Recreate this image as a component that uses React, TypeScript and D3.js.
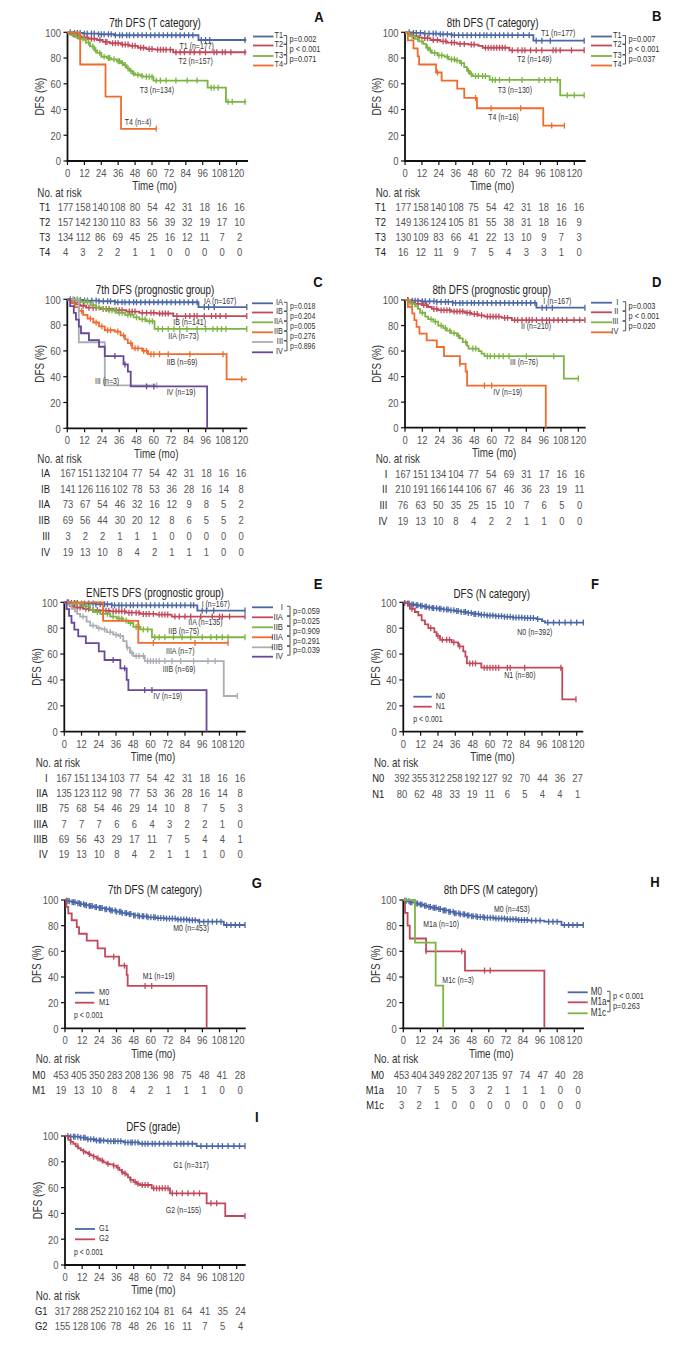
import React from "react";
import * as d3 from "d3";

type Step = [number, number];

const FONT = '"Liberation Sans", Arial, "DejaVu Sans", sans-serif';
const SX = 0.82;

const BLUE = "#4b67a5";
const RED = "#c1495b";
const GREEN = "#7db443";
const ORANGE = "#f06b2d";
const GRAY = "#aaaeb4";
const PURPLE = "#67489b";

const X_TICKS = [0, 12, 24, 36, 48, 60, 72, 84, 96, 108, 120];
const Y_TICKS = [0, 20, 40, 60, 80, 100];

// ---------- Panel A: 7th DFS (T category) ----------
const A_T1_steps: Step[] = [[0, 100], [4, 99.5], [11, 99], [22, 98.5], [33, 97.7], [93, 94]];
const A_T1_cens = [2, 5, 7, 9, 12, 14, 17, 19, 22, 24, 26, 29, 31, 34, 37, 39, 42, 44, 47, 50, 53, 56, 59, 62, 65, 68, 71, 74, 77, 80, 83, 86, 89, 95, 98, 101, 126];
const A_T2_steps: Step[] = [[0, 100], [2, 98.5], [5, 97], [10, 96], [15, 95], [21, 94], [25, 92.5], [30, 91.5], [38, 90.5], [44, 89.5], [50, 88], [56, 87], [62, 86.5], [75, 84.5]];
const A_T2_cens = [4, 7, 9, 12, 14, 17, 19, 23, 27, 28, 32, 34, 36, 39, 41, 43, 46, 48, 52, 54, 58, 60, 64, 66, 68, 70, 73, 77, 80, 83, 87, 90, 94, 98, 104, 106, 110, 112, 116, 126];
const A_T3_steps: Step[] = [[0, 100], [3, 98], [6, 96.5], [9, 95], [13, 92], [16, 89], [19, 86], [21, 84], [24, 81], [28, 80], [31, 79], [35, 77.5], [38, 76], [40, 74.5], [42, 72], [44, 70], [46, 68], [48, 67], [52, 66], [54, 65.5], [61, 62.5], [99.5, 57], [112.5, 46]];
const A_T3_cens = [5, 8, 11, 15, 18, 20, 23, 26, 29, 30, 33, 36, 37, 39, 41, 43, 45, 47, 50, 53, 56, 58, 60, 63, 66, 70, 77, 85, 92, 102, 104, 107, 114, 117, 126];
const A_T4_steps: Step[] = [[0, 100], [9, 75], [27, 50], [38, 25]];
const A_T4_cens = [63];
const A_risk_T1 = [177, 158, 140, 108, 80, 54, 42, 31, 18, 16, 16];
const A_risk_T2 = [157, 142, 130, 110, 83, 56, 39, 32, 19, 17, 10];
const A_risk_T3 = [134, 112, 86, 69, 45, 25, 16, 12, 11, 7, 2];
const A_risk_T4 = [4, 3, 2, 2, 1, 1, 0, 0, 0, 0, 0];

// ---------- Panel B: 8th DFS (T category) ----------
const B_T1_steps: Step[] = [[0, 100], [5, 99.5], [13, 99], [24, 98.5], [33, 97.8], [91, 93.5]];
const B_T1_cens = [3, 6, 8, 11, 14, 17, 20, 22, 25, 27, 30, 33, 35, 38, 41, 44, 47, 50, 53, 56, 58, 61, 64, 67, 70, 73, 76, 80, 84, 88, 93, 97, 103, 127];
const B_T2_steps: Step[] = [[0, 100], [3, 98.5], [5, 97], [9, 96], [12, 95.5], [18, 94], [25, 93], [30, 92], [37, 91], [45, 90.5], [52, 89.5], [55, 88], [74, 86]];
const B_T2_cens = [6, 10, 14, 16, 20, 23, 27, 29, 33, 35, 39, 42, 47, 49, 57, 59, 61, 63, 65, 67, 69, 71, 76, 80, 83, 85, 89, 93, 97, 105, 107, 110, 118, 127];
const B_T3_steps: Step[] = [[0, 100], [3, 97], [7, 95], [10, 93], [13, 91], [15, 88], [17, 86], [19, 84], [23, 82], [28, 81], [31, 79], [36, 78], [39, 76], [42, 73], [44, 70], [46, 67.5], [48, 66], [60, 63], [110, 51]];
const B_T3_cens = [5, 9, 12, 16, 18, 21, 24, 26, 30, 33, 35, 37, 40, 45, 47, 50, 52, 55, 57, 62, 64, 67, 74, 83, 95, 99, 103, 108, 115, 120, 127];
const B_T4_steps: Step[] = [[0, 100], [2, 93.75], [6, 87.5], [9, 81.25], [10, 75], [22, 68.75], [26, 62.5], [37, 56.25], [42, 49], [51, 41], [98, 27.5]];
const B_T4_cens = [23, 50, 61, 82, 104, 113];
const B_risk_T1 = [177, 158, 140, 108, 75, 54, 42, 31, 18, 16, 16];
const B_risk_T2 = [149, 136, 124, 105, 81, 55, 38, 31, 18, 16, 9];
const B_risk_T3 = [130, 109, 83, 66, 41, 22, 13, 10, 9, 7, 3];
const B_risk_T4 = [16, 12, 11, 9, 7, 5, 4, 3, 3, 1, 0];

// ---------- Panel C: 7th DFS (prognostic group) ----------
const C_IA_steps: Step[] = [[0, 100], [4, 99.5], [11, 99], [22, 98.5], [33, 97.7], [91, 94]];
const C_IA_cens = [2, 5, 7, 9, 12, 14, 17, 20, 22, 25, 28, 30, 33, 35, 38, 40, 43, 46, 48, 51, 54, 57, 60, 63, 66, 69, 72, 75, 78, 81, 84, 87, 90, 95, 98, 102, 124.5];
const C_IB_steps: Step[] = [[0, 100], [3, 97.5], [6, 96], [9, 95], [13, 93.5], [23, 92.5], [32, 91.5], [41, 90.5], [50, 89.5], [62, 89], [73.5, 87]];
const C_IB_cens = [5, 8, 11, 15, 18, 20, 25, 27, 29, 34, 36, 38, 43, 45, 47, 52, 55, 58, 60, 64, 66, 68, 70, 76, 82, 85, 88, 90, 95, 100, 103, 106, 110, 124.5];
const C_IIA_steps: Step[] = [[0, 100], [9, 98], [16, 95.5], [20, 93.5], [24, 92.5], [27, 91.5], [34, 89.5], [40, 88], [46, 86], [50, 84.5], [55, 83], [60.5, 77]];
const C_IIA_cens = [4, 7, 12, 14, 18, 22, 25, 29, 31, 33, 36, 38, 42, 44, 48, 52, 54, 57, 59, 63, 66, 70, 74, 78, 83, 90, 96, 101, 104, 107, 110, 124.5];
const C_IIB_steps: Step[] = [[0, 100], [3, 97], [5, 94], [8, 91], [11, 88], [14, 85], [18, 82], [22, 79], [26, 76], [33, 75], [37, 72], [40, 69], [42, 66], [45, 62], [52, 60], [56, 57.5], [110.5, 38]];
const C_IIB_cens = [10, 16, 20, 24, 28, 30, 35, 39, 44, 47, 49, 53, 55, 58, 60, 64, 70, 85, 108, 121];
const C_III_steps: Step[] = [[0, 100], [8, 66.7], [26, 33.3]];
const C_III_cens = [62];
const C_IV_steps: Step[] = [[0, 100], [2, 94.7], [4.5, 89.5], [6, 84.2], [8, 78.9], [9.5, 73.7], [15, 68.4], [22, 63.2], [26, 56], [39, 49.5], [42, 44], [44, 32.5], [97, 0]];
const C_IV_cens = [33, 40, 55, 60];
const C_risk_IA = [167, 151, 132, 104, 77, 54, 42, 31, 18, 16, 16];
const C_risk_IB = [141, 126, 116, 102, 78, 53, 36, 28, 16, 14, 8];
const C_risk_IIA = [73, 67, 54, 46, 32, 16, 12, 9, 8, 5, 2];
const C_risk_IIB = [69, 56, 44, 30, 20, 12, 8, 6, 5, 5, 2];
const C_risk_III = [3, 2, 2, 1, 1, 1, 0, 0, 0, 0, 0];
const C_risk_IV = [19, 13, 10, 8, 4, 2, 1, 1, 1, 0, 0];

// ---------- Panel D: 8th DFS (prognostic group) ----------
const D_I_steps: Step[] = [[0, 100], [4, 99.5], [11, 99], [22, 98.5], [33, 97.7], [91, 94]];
const D_I_cens = [2, 5, 7, 9, 12, 14, 17, 20, 22, 25, 28, 30, 33, 35, 38, 40, 43, 46, 48, 51, 54, 57, 60, 63, 66, 69, 72, 75, 78, 81, 84, 87, 90, 95, 98, 102, 124.6];
const D_II_steps: Step[] = [[0, 100], [3.5, 98], [7, 97], [11.5, 96], [16, 94.5], [18.5, 93], [23, 92], [32, 91], [41.5, 90], [46, 89], [51, 88], [55, 87], [67, 86], [74, 84.3]];
const D_II_cens = [2, 5, 9, 13, 15, 20, 22, 25, 27, 29, 31, 34, 36, 38, 40, 43, 45, 48, 50, 53, 57, 59, 61, 63, 65, 69, 71, 76, 78, 81, 84, 86, 88, 91, 95, 98, 100, 103, 106, 109, 112, 117, 121, 124.6];
const D_III_steps: Step[] = [[0, 100], [3.5, 97], [7, 95], [9, 93], [10.4, 90], [14, 87], [16, 85], [19.6, 83], [23, 80], [26.5, 78], [29, 76], [32, 74], [36, 72], [38, 70], [40, 67], [43, 64], [44, 62], [51, 60], [53, 58], [55, 56], [110, 38.5]];
const D_III_cens = [5, 12, 18, 21, 25, 28, 31, 34, 37, 42, 47, 49, 57, 59, 62, 65, 68, 72, 84, 103, 120];
const D_IV_steps: Step[] = [[0, 100], [2, 94.7], [5, 89.5], [6.5, 84.2], [8, 78.9], [10, 73.7], [15, 68.4], [22, 63.2], [27, 56], [38, 50], [42, 44], [43, 33], [97.5, 0]];
const D_IV_cens = [38, 55, 60];
const D_risk_I = [167, 151, 134, 104, 77, 54, 69, 31, 17, 16, 16];
const D_risk_II = [210, 191, 166, 144, 106, 67, 46, 36, 23, 19, 11];
const D_risk_III = [76, 63, 50, 35, 25, 15, 10, 7, 6, 5, 0];
const D_risk_IV = [19, 13, 10, 8, 4, 2, 2, 1, 1, 0, 0];

// ---------- Panel E: ENETS DFS (prognostic group) ----------
const E_I_steps: Step[] = [[0, 100], [4, 99.5], [11, 99], [22, 98.5], [33, 97.7], [92.6, 93.6]];
const E_I_cens = [2, 5, 7, 9, 12, 14, 17, 20, 22, 25, 28, 30, 33, 35, 38, 40, 43, 46, 48, 51, 54, 57, 60, 63, 66, 69, 72, 75, 78, 81, 84, 88, 90, 96, 99, 104, 125.8];
const E_IIA_steps: Step[] = [[0, 100], [4, 97], [7, 96], [13, 95], [18, 94], [25, 93.5], [32, 93], [43, 92], [53, 91], [64, 90.5], [74.7, 89]];
const E_IIA_cens = [3, 6, 9, 11, 15, 17, 20, 23, 27, 29, 31, 34, 36, 38, 40, 42, 45, 47, 50, 52, 55, 57, 59, 62, 66, 68, 70, 72, 77, 80, 84, 88, 95, 103, 108, 110, 115, 125.8];
const E_IIB_steps: Step[] = [[0, 100], [5, 99], [13, 97], [18, 94], [21, 92.5], [25, 91], [32, 89], [36.5, 87.5], [41, 86], [44.6, 84], [48, 81], [53, 79], [61, 73]];
const E_IIB_cens = [8, 15, 20, 23, 27, 30, 34, 38, 40, 43, 46, 50, 52, 55, 58, 63, 66, 70, 76, 82, 88, 96, 102, 106, 110, 114, 125.8];
const E_IIIA_steps: Step[] = [[0, 100], [27, 85.7], [51.5, 68.6]];
const E_IIIA_cens = [62, 91, 114];
const E_IIIB_steps: Step[] = [[0, 100], [2, 98], [5, 95], [7.4, 93], [9, 91], [11, 89], [15.5, 85], [18, 82], [22.5, 80], [26, 79], [29.5, 77], [34, 75], [37.6, 74], [41, 70], [43.4, 65], [45.7, 61], [48, 58.5], [56, 54.6], [111, 27.6]];
const E_IIIB_cens = [13, 20, 24, 28, 32, 36, 39, 44, 47, 50, 52, 55, 58, 60, 62, 64, 66, 70, 75, 81, 90, 100, 105, 120.5];
const E_IV_steps: Step[] = [[0, 100], [1.6, 94.7], [3.3, 89.5], [5, 84.2], [7, 78.9], [9.7, 73.7], [15, 68.4], [24, 62], [28, 55.4], [39, 49], [43.4, 40], [44.6, 32.2], [99, 0]];
const E_IV_cens = [34, 42, 56, 61];
const E_risk_I = [167, 151, 134, 103, 77, 54, 42, 31, 18, 16, 16];
const E_risk_IIA = [135, 123, 112, 98, 77, 53, 36, 28, 16, 14, 8];
const E_risk_IIB = [75, 68, 54, 46, 29, 14, 10, 8, 7, 5, 3];
const E_risk_IIIA = [7, 7, 7, 6, 6, 4, 3, 2, 2, 1, 0];
const E_risk_IIIB = [69, 56, 43, 29, 17, 11, 7, 5, 4, 4, 1];
const E_risk_IV = [19, 13, 10, 8, 4, 2, 1, 1, 1, 0, 0];

// ---------- Panel F: DFS (N category) ----------
const F_N0_steps: Step[] = [[0, 100], [1, 99.5], [3, 99], [5, 98.3], [8, 97.8], [11, 97.3], [14, 96.6], [17, 96], [20, 95.5], [24, 95], [28, 94.4], [32, 93.8], [36, 93.2], [40, 92.6], [44, 91.8], [48, 91], [53, 90.3], [58, 89.8], [64, 89.3], [70, 88.8], [76, 88.2], [84, 87.8], [92, 87], [96, 85.5], [98, 84.3]];
const F_N0_cens = [1, 3, 4, 6, 7, 9, 10, 12, 13, 15, 16, 18, 20, 21, 23, 25, 26, 28, 30, 31, 33, 35, 37, 38, 40, 42, 43, 45, 47, 49, 50, 52, 54, 56, 58, 60, 62, 64, 66, 68, 70, 72, 74, 76, 78, 80, 82, 84, 86, 88, 90, 93, 100, 104, 108, 112, 116, 120, 124.6];
const F_N1_steps: Step[] = [[0, 100], [3.5, 97.5], [4.6, 95], [8, 92.5], [10.4, 90], [12.7, 86], [15, 83], [17.3, 80], [21.5, 77], [23, 74], [25.4, 71], [33.5, 69], [38, 66], [41.5, 62], [43, 58], [44, 52.8], [54, 49.5], [110, 25]];
const F_N1_cens = [6, 19, 24, 27, 30, 32, 35, 39, 46, 48, 50, 56, 58, 60, 62, 64, 66, 72, 74, 84, 109, 119.5];
const F_risk_N0 = [392, 355, 312, 258, 192, 127, 92, 70, 44, 36, 27];
const F_risk_N1 = [80, 62, 48, 33, 19, 11, 6, 5, 4, 4, 1];

// ---------- Panel G: 7th DFS (M category) ----------
const G_M0_steps: Step[] = [[0, 100], [1, 99.5], [3, 99], [5, 98.3], [8, 97.5], [11, 96.8], [14, 96], [17, 95.3], [20, 94.5], [24, 93.7], [28, 92.8], [32, 91.8], [36, 90.8], [40, 89.8], [44, 89], [48, 88], [52, 87.3], [58, 86.5], [64, 85.9], [70, 85.5], [78, 84.8], [86, 84.3], [93, 83.1], [111, 80.5]];
const G_M0_cens = [1, 2, 3, 5, 6, 7, 9, 10, 11, 13, 14, 15, 17, 18, 19, 21, 22, 24, 25, 26, 28, 29, 31, 32, 33, 35, 36, 38, 39, 40, 42, 43, 45, 46, 48, 49, 51, 52, 54, 55, 57, 58, 60, 62, 63, 65, 67, 69, 71, 73, 75, 77, 79, 81, 83, 85, 87, 89, 91, 94, 97, 100, 103, 106, 109, 113, 116, 119, 122, 125.8];
const G_M1_steps: Step[] = [[0, 100], [1, 94.7], [2.3, 89.5], [4.7, 84.2], [8.2, 78.9], [9.8, 73.7], [15.2, 68.4], [22.8, 62.3], [28, 55.8], [37.8, 48.8], [43.1, 41.6], [43.8, 33], [99, 0]];
const G_M1_cens = [34, 41.5, 56, 60.6];
const G_risk_M0 = [453, 405, 350, 283, 208, 136, 98, 75, 48, 41, 28];
const G_risk_M1 = [19, 13, 10, 8, 4, 2, 1, 1, 1, 0, 0];

// ---------- Panel H: 8th DFS (M category) ----------
const H_M0_steps: Step[] = [[0, 100], [1, 99.5], [3, 99], [5, 98.2], [8, 97.3], [11, 96.5], [14, 95.6], [17, 94.6], [20, 93.9], [24, 92.9], [28, 91.9], [32, 90.8], [36, 89.6], [40, 88.8], [44, 88], [48, 87.3], [52, 86.7], [57, 86.2], [64, 85.6], [72, 85], [80, 84.4], [88, 84], [99, 83.1], [111, 80.5]];
const H_M0_cens = [1, 2, 4, 5, 6, 8, 9, 10, 12, 13, 15, 16, 18, 19, 21, 22, 23, 25, 26, 28, 29, 30, 32, 33, 35, 36, 37, 39, 40, 42, 43, 45, 46, 48, 49, 51, 52, 54, 56, 57, 59, 61, 63, 65, 67, 69, 71, 73, 75, 77, 79, 81, 83, 85, 87, 90, 93, 96, 102, 105, 108, 113, 116, 119, 122, 126.3];
const H_M1a_steps: Step[] = [[0, 100], [1.2, 90], [3, 80], [4.5, 70], [16, 60], [43.3, 45], [99, 0]];
const H_M1a_cens = [16, 41, 57, 61];
const H_M1c_steps: Step[] = [[0, 100], [8.2, 66.7], [22.7, 33.3], [28, 0]];
const H_M1c_cens: number[] = [];
const H_risk_M0 = [453, 404, 349, 282, 207, 135, 97, 74, 47, 40, 28];
const H_risk_M1a = [10, 7, 5, 5, 3, 2, 1, 1, 1, 0, 0];
const H_risk_M1c = [3, 2, 1, 0, 0, 0, 0, 0, 0, 0, 0];

// ---------- Panel I: DFS (grade) ----------
const I_G1_steps: Step[] = [[0, 100], [3, 99.5], [10.5, 98.7], [15, 97.5], [21, 96.5], [29, 96], [40.8, 95], [52, 94], [92, 92.2]];
const I_G1_cens = [2, 4, 6, 7, 9, 11, 13, 14, 16, 18, 20, 22, 24, 25, 27, 30, 32, 34, 35, 37, 39, 42, 44, 46, 47, 49, 51, 54, 56, 58, 61, 63, 66, 69, 72, 74, 78, 81, 83, 86, 89, 95, 99, 103, 107, 110, 114, 118, 122, 125.8];
const I_G2_steps: Step[] = [[0, 100], [2.3, 97], [4, 95.5], [5.8, 94], [7.5, 92], [9.3, 90.5], [11, 89], [12.8, 88], [14.5, 87], [16.3, 86], [18, 85], [19.8, 84], [22, 82.5], [24.5, 81], [27, 79.5], [29, 78.5], [31, 78], [33.8, 77], [36, 75.5], [38, 73.5], [39.6, 72], [41, 71], [43, 70], [44, 68], [45.5, 66], [47.8, 64.5], [50, 63], [52.4, 62], [60.6, 59.4], [73.4, 55.6], [99, 47.8], [112, 38]];
const I_G2_cens = [4, 9, 13, 17, 20, 23, 26, 30, 34, 37, 40, 42, 46, 49, 51, 54, 56, 58, 62, 64, 66, 68, 70, 72, 75, 78, 82, 86, 90, 94, 102, 106, 125.8];
const I_risk_G1 = [317, 288, 252, 210, 162, 104, 81, 64, 41, 35, 24];
const I_risk_G2 = [155, 128, 106, 78, 48, 26, 16, 11, 7, 5, 4];

// ---------- types ----------
type Curve = { steps: Step[]; cens: number[]; end: number; color: string };
type NLabel = { text: string; t: number; s: number };
type Legend = {
  x1: number; x2: number; labelX: number; anchor: "start" | "end";
  ys: number[]; labels: string[]; colors: string[];
  bracketX?: number; pX: number; pYs?: number[]; pTexts: string[]; pSize: number; labelSize: number;
};
type Table = {
  naX: number; naY: number; labelX: number; anchor: "start" | "end";
  y0: number; step: number; c0: number; c10: number;
  labels: string[]; rows: number[][];
};
type PanelCfg = {
  title: string; letter: string; titleX: number; titleY: number; letterX: number; letterY: number;
  x0: number; x120: number; xEnd: number; y100: number; y0: number; yLabelX: number;
  curves: Curve[]; nLabels: NLabel[]; legend: Legend; table: Table;
};

const panels: PanelCfg[] = [
  {
    title: "7th DFS (T category)", letter: "A", titleX: 155, titleY: 23, letterX: 319, letterY: 17,
    x0: 67.5, x120: 236.5, xEnd: 248, y100: 32.3, y0: 161, yLabelX: 39.3,
    curves: [
      { steps: A_T1_steps, cens: A_T1_cens, end: 127, color: BLUE },
      { steps: A_T2_steps, cens: A_T2_cens, end: 127, color: RED },
      { steps: A_T3_steps, cens: A_T3_cens, end: 127, color: GREEN },
      { steps: A_T4_steps, cens: A_T4_cens, end: 63, color: ORANGE },
    ],
    nLabels: [
      { text: "T1 (n=177)", t: 79.6, s: 89.4 },
      { text: "T2 (n=157)", t: 78.8, s: 77.2 },
      { text: "T3 (n=134)", t: 51.3, s: 55.2 },
      { text: "T4 (n=4)", t: 40.7, s: 30.1 },
    ],
    legend: {
      x1: 253, x2: 273.5, labelX: 283, anchor: "end", ys: [36.5, 45.5, 56, 65.5],
      labels: ["T1", "T2", "T3", "T4"], colors: [BLUE, RED, GREEN, ORANGE],
      bracketX: 286.7, pX: 289.5, pTexts: ["p=0.002", "p < 0.001", "p=0.071"], pSize: 9, labelSize: 9,
    },
    table: {
      naX: 37.3, naY: 192.3, labelX: 39.3, anchor: "start", y0: 207, step: 15, c0: 65.5, c10: 239.5,
      labels: ["T1", "T2", "T3", "T4"], rows: [A_risk_T1, A_risk_T2, A_risk_T3, A_risk_T4],
    },
  },
  {
    title: "8th DFS (T category)", letter: "B", titleX: 492.7, titleY: 23, letterX: 656.7, letterY: 16,
    x0: 405, x120: 574.3, xEnd: 585.7, y100: 32.3, y0: 161, yLabelX: 376.7,
    curves: [
      { steps: B_T1_steps, cens: B_T1_cens, end: 127, color: BLUE },
      { steps: B_T2_steps, cens: B_T2_cens, end: 127, color: RED },
      { steps: B_T3_steps, cens: B_T3_cens, end: 127, color: GREEN },
      { steps: B_T4_steps, cens: B_T4_cens, end: 113, color: ORANGE },
    ],
    nLabels: [
      { text: "T1 (n=177)", t: 96.4, s: 99.2 },
      { text: "T2 (n=149)", t: 79.6, s: 79.3 },
      { text: "T3 (n=130)", t: 65.7, s: 55.2 },
      { text: "T4 (n=16)", t: 59, s: 34 },
    ],
    legend: {
      x1: 591, x2: 612, labelX: 621.7, anchor: "end", ys: [36.5, 45.5, 56, 65.5],
      labels: ["T1", "T2", "T3", "T4"], colors: [BLUE, RED, GREEN, ORANGE],
      bracketX: 625.5, pX: 628.5, pTexts: ["p=0.007", "p < 0.001", "p=0.037"], pSize: 9, labelSize: 9,
    },
    table: {
      naX: 375.7, naY: 192.3, labelX: 375, anchor: "start", y0: 207, step: 15, c0: 403.3, c10: 579,
      labels: ["T1", "T2", "T3", "T4"], rows: [B_risk_T1, B_risk_T2, B_risk_T3, B_risk_T4],
    },
  },
  {
    title: "7th DFS (prognostic group)", letter: "C", titleX: 155, titleY: 289.3, letterX: 318, letterY: 282,
    x0: 67.3, x120: 240.3, xEnd: 247.3, y100: 299.3, y0: 428.3, yLabelX: 39.3,
    curves: [
      { steps: C_IA_steps, cens: C_IA_cens, end: 124.5, color: BLUE },
      { steps: C_IB_steps, cens: C_IB_cens, end: 124.5, color: RED },
      { steps: C_IIA_steps, cens: C_IIA_cens, end: 124.5, color: GREEN },
      { steps: C_IIB_steps, cens: C_IIB_cens, end: 124.5, color: ORANGE },
      { steps: C_III_steps, cens: C_III_cens, end: 62, color: GRAY },
      { steps: C_IV_steps, cens: C_IV_cens, end: 97, color: PURPLE },
    ],
    nLabels: [
      { text: "IA (n=167)", t: 94.8, s: 98.1 },
      { text: "IB (n=141)", t: 73.5, s: 81.9 },
      { text: "IIA (n=73)", t: 70.1, s: 71 },
      { text: "IIB (n=69)", t: 68.9, s: 50.9 },
      { text: "III (n=3)", t: 19.2, s: 36.7 },
      { text: "IV (n=19)", t: 68.9, s: 28.1 },
    ],
    legend: {
      x1: 252, x2: 273, labelX: 283, anchor: "end", ys: [303.3, 312.5, 322.3, 332.3, 342, 352.3],
      labels: ["IA", "IB", "IIA", "IIB", "III", "IV"], colors: [BLUE, RED, GREEN, ORANGE, GRAY, PURPLE],
      bracketX: 287, pX: 290, pTexts: ["p=0.018", "p=0.204", "p=0.005", "p=0.276", "p=0.896"], pSize: 8.5, labelSize: 9,
    },
    table: {
      naX: 37.3, naY: 459, labelX: 50, anchor: "end", y0: 472.7, step: 15.7, c0: 68, c10: 241,
      labels: ["IA", "IB", "IIA", "IIB", "III", "IV"], rows: [C_risk_IA, C_risk_IB, C_risk_IIA, C_risk_IIB, C_risk_III, C_risk_IV],
    },
  },
  {
    title: "8th DFS (prognostic group)", letter: "D", titleX: 491.7, titleY: 289.3, letterX: 656.7, letterY: 282,
    x0: 405, x120: 578.3, xEnd: 585.7, y100: 300, y0: 427.7, yLabelX: 376.7,
    curves: [
      { steps: D_I_steps, cens: D_I_cens, end: 124.6, color: BLUE },
      { steps: D_II_steps, cens: D_II_cens, end: 124.6, color: RED },
      { steps: D_III_steps, cens: D_III_cens, end: 120, color: GREEN },
      { steps: D_IV_steps, cens: D_IV_cens, end: 97.5, color: ORANGE },
    ],
    nLabels: [
      { text: "I (n=167)", t: 95.8, s: 98.7 },
      { text: "II (n=210)", t: 80.3, s: 79.1 },
      { text: "III (n=76)", t: 72.7, s: 50.9 },
      { text: "IV (n=19)", t: 61.1, s: 27.4 },
    ],
    legend: {
      x1: 591, x2: 612, labelX: 618.3, anchor: "end", ys: [302.7, 312.3, 322.3, 332.3],
      labels: ["I", "II", "III", "IV"], colors: [BLUE, RED, GREEN, ORANGE],
      bracketX: 625.7, pX: 628.5, pTexts: ["p=0.003", "p < 0.001", "p=0.020"], pSize: 9, labelSize: 9,
    },
    table: {
      naX: 375.7, naY: 459, labelX: 387.3, anchor: "end", y0: 473.3, step: 15.8, c0: 403, c10: 579.5,
      labels: ["I", "II", "III", "IV"], rows: [D_risk_I, D_risk_II, D_risk_III, D_risk_IV],
    },
  },
  {
    title: "ENETS DFS (prognostic group)", letter: "E", titleX: 155, titleY: 592.3, letterX: 318, letterY: 584,
    x0: 64.3, x120: 236.7, xEnd: 245.7, y100: 602.3, y0: 731.7, yLabelX: 36.7,
    curves: [
      { steps: E_I_steps, cens: E_I_cens, end: 125.8, color: BLUE },
      { steps: E_IIA_steps, cens: E_IIA_cens, end: 125.8, color: RED },
      { steps: E_IIB_steps, cens: E_IIB_cens, end: 125.8, color: GREEN },
      { steps: E_IIIA_steps, cens: E_IIIA_cens, end: 114, color: ORANGE },
      { steps: E_IIIB_steps, cens: E_IIIB_cens, end: 120.5, color: GRAY },
      { steps: E_IV_steps, cens: E_IV_cens, end: 99, color: PURPLE },
    ],
    nLabels: [
      { text: "I (n=167)", t: 95.6, s: 98.7 },
      { text: "IIA (n=135)", t: 86.3, s: 84.2 },
      { text: "IIB (n=75)", t: 72.4, s: 77.8 },
      { text: "IIIA (n=7)", t: 70.8, s: 62.4 },
      { text: "IIIB (n=69)", t: 68.5, s: 48.5 },
      { text: "IV (n=19)", t: 61.9, s: 27 },
    ],
    legend: {
      x1: 252, x2: 273, labelX: 283, anchor: "end", ys: [607.3, 617.3, 627.3, 637.3, 647.3, 656.7],
      labels: ["I", "IIA", "IIB", "IIIA", "IIIB", "IV"], colors: [BLUE, RED, GREEN, ORANGE, GRAY, PURPLE],
      bracketX: 290, pX: 293, pTexts: ["p=0.059", "p=0.025", "p=0.909", "p=0.291", "p=0.039"], pSize: 9, labelSize: 9.5,
    },
    table: {
      naX: 35.7, naY: 762.7, labelX: 47.7, anchor: "end", y0: 777.7, step: 15.2, c0: 64, c10: 240,
      labels: ["I", "IIA", "IIB", "IIIA", "IIIB", "IV"], rows: [E_risk_I, E_risk_IIA, E_risk_IIB, E_risk_IIIA, E_risk_IIIB, E_risk_IV],
    },
  },
  {
    title: "DFS (N category)", letter: "F", titleX: 491.7, titleY: 593.3, letterX: 595, letterY: 584,
    x0: 403.3, x120: 576.7, xEnd: 583.3, y100: 602.3, y0: 731.7, yLabelX: 375.7,
    curves: [
      { steps: F_N0_steps, cens: F_N0_cens, end: 124.6, color: BLUE },
      { steps: F_N1_steps, cens: F_N1_cens, end: 119.5, color: RED },
    ],
    nLabels: [
      { text: "N0 (n=392)", t: 78.9, s: 76.8 },
      { text: "N1 (n=80)", t: 69.9, s: 43.8 },
    ],
    legend: {
      x1: 413.3, x2: 431.7, labelX: 435.7, anchor: "start", ys: [696.7, 706.7],
      labels: ["N0", "N1"], colors: [BLUE, RED],
      pX: 413.3, pYs: [719], pTexts: ["p < 0.001"], pSize: 8.5, labelSize: 9,
    },
    table: {
      naX: 374, naY: 762.7, labelX: 372.3, anchor: "start", y0: 777.7, step: 15.6, c0: 402, c10: 577.5,
      labels: ["N0", "N1"], rows: [F_risk_N0, F_risk_N1],
    },
  },
  {
    title: "7th DFS (M category)", letter: "G", titleX: 155, titleY: 890, letterX: 256.7, letterY: 883.3,
    x0: 65, x120: 236.7, xEnd: 245.7, y100: 900, y0: 1028.3, yLabelX: 36.7,
    curves: [
      { steps: G_M0_steps, cens: G_M0_cens, end: 125.8, color: BLUE },
      { steps: G_M1_steps, cens: G_M1_cens, end: 99, color: RED },
    ],
    nLabels: [
      { text: "M0 (n=453)", t: 75.7, s: 77.9 },
      { text: "M1 (n=19)", t: 54.3, s: 40.8 },
    ],
    legend: {
      x1: 75, x2: 94.3, labelX: 99, anchor: "start", ys: [992.7, 1002.7],
      labels: ["M0", "M1"], colors: [BLUE, RED],
      pX: 74, pYs: [1015], pTexts: ["p < 0.001"], pSize: 8.5, labelSize: 9,
    },
    table: {
      naX: 35.7, naY: 1059, labelX: 32.3, anchor: "start", y0: 1075, step: 14.3, c0: 61, c10: 240,
      labels: ["M0", "M1"], rows: [G_risk_M0, G_risk_M1],
    },
  },
  {
    title: "8th DFS (M category)", letter: "H", titleX: 490.7, titleY: 890, letterX: 655, letterY: 882.7,
    x0: 403.3, x120: 574.3, xEnd: 584, y100: 900, y0: 1028.3, yLabelX: 375.7,
    curves: [
      { steps: H_M0_steps, cens: H_M0_cens, end: 126.3, color: BLUE },
      { steps: H_M1a_steps, cens: H_M1a_cens, end: 99, color: RED },
      { steps: H_M1c_steps, cens: H_M1c_cens, end: 28, color: GREEN },
    ],
    nLabels: [
      { text: "M0 (n=453)", t: 63.6, s: 92.8 },
      { text: "M1a (n=10)", t: 14, s: 81.3 },
      { text: "M1c (n=3)", t: 27.4, s: 37.1 },
    ],
    legend: {
      x1: 567.7, x2: 587.7, labelX: 590.7, anchor: "start", ys: [992.3, 1002.3, 1013.3],
      labels: ["M0", "M1a", "M1c"], colors: [BLUE, RED, GREEN],
      bracketX: 610, pX: 613, pTexts: ["p < 0.001", "p=0.263"], pSize: 9, labelSize: 10,
    },
    table: {
      naX: 374, naY: 1059, labelX: 384, anchor: "end", y0: 1075, step: 15, c0: 401.5, c10: 578,
      labels: ["M0", "M1a", "M1c"], rows: [H_risk_M0, H_risk_M1a, H_risk_M1c],
    },
  },
  {
    title: "DFS (grade)", letter: "I", titleX: 153.3, titleY: 1126.7, letterX: 256.7, letterY: 1117,
    x0: 65, x120: 236.7, xEnd: 245.7, y100: 1136, y0: 1265, yLabelX: 37.7,
    curves: [
      { steps: I_G1_steps, cens: I_G1_cens, end: 125.8, color: BLUE },
      { steps: I_G2_steps, cens: I_G2_cens, end: 125.8, color: RED },
    ],
    nLabels: [
      { text: "G1 (n=317)", t: 75.7, s: 77 },
      { text: "G2 (n=155)", t: 70.4, s: 42.6 },
    ],
    legend: {
      x1: 75, x2: 95, labelX: 99, anchor: "start", ys: [1229, 1239.3],
      labels: ["G1", "G2"], colors: [BLUE, RED],
      pX: 74, pYs: [1252.3], pTexts: ["p < 0.001"], pSize: 8.5, labelSize: 9,
    },
    table: {
      naX: 35.7, naY: 1295.7, labelX: 35, anchor: "start", y0: 1311, step: 15, c0: 62.5, c10: 240.5,
      labels: ["G1", "G2"], rows: [I_risk_G1, I_risk_G2],
    },
  },
];

function survAt(steps: Step[], t: number): number {
  let s = steps[0][1];
  for (const [ti, si] of steps) {
    if (ti <= t) s = si;
    else break;
  }
  return s;
}

type TProps = {
  x: number; y: number; size: number; fill?: string; anchor?: "start" | "middle" | "end";
  weight?: string; rotate?: number; sx?: number; children: React.ReactNode;
};

// narrow text: horizontally compressed about its anchor point
function T({ x, y, size, fill = "#333", anchor = "start", weight, rotate, sx = SX, children }: TProps) {
  const tr = `translate(${x},${y})${rotate ? ` rotate(${rotate})` : ""} scale(${sx},1)`;
  return (
    <text transform={tr} x={0} y={0} fontSize={size} fill={fill} textAnchor={anchor} dominantBaseline="central" fontWeight={weight}>
      {children}
    </text>
  );
}

function Panel({ p }: { p: PanelCfg }) {
  const x = d3.scaleLinear().domain([0, 120]).range([p.x0, p.x120]);
  const y = d3.scaleLinear().domain([0, 100]).range([p.y0, p.y100]);
  const line = d3
    .line<Step>()
    .x((d) => x(d[0]))
    .y((d) => y(d[1]))
    .curve(d3.curveStepAfter);
  const col = d3.scaleLinear().domain([0, 120]).range([p.table.c0, p.table.c10]);
  const lg = p.legend;
  const tb = p.table;
  const midY = (p.y0 + p.y100) / 2;
  return (
    <g>
      <T x={p.titleX} y={p.titleY} anchor="middle" size={12} fill="#222">{p.title}</T>
      <T x={p.letterX} y={p.letterY} anchor="middle" size={14.5} weight="bold" fill="#111" sx={0.9}>{p.letter}</T>
      {/* y axis */}
      <line x1={x(0)} x2={x(0)} y1={y(0)} y2={y(100)} stroke="#111" strokeWidth={1.8} />
      {Y_TICKS.map((v) => (
        <g key={"y" + v}>
          <line x1={x(0) - 4} x2={x(0)} y1={y(v)} y2={y(v)} stroke="#111" strokeWidth={1.2} />
          <T x={x(0) - 6.5} y={y(v)} anchor="end" size={11.5} fill="#555">{v}</T>
        </g>
      ))}
      {/* x axis */}
      <line x1={x(0) - 0.9} x2={p.xEnd} y1={y(0)} y2={y(0)} stroke="#111" strokeWidth={1.8} />
      {X_TICKS.map((v) => (
        <g key={"x" + v}>
          <line x1={x(v)} x2={x(v)} y1={y(0)} y2={y(0) + 4} stroke="#111" strokeWidth={1.2} />
          <T x={x(v)} y={y(0) + 11.5} anchor="middle" size={11.5} fill="#555">{v}</T>
        </g>
      ))}
      <T x={(p.x0 + p.x120) / 2 + 2.5} y={y(0) + 25} anchor="middle" size={12} fill="#333">Time (mo)</T>
      <T x={p.yLabelX} y={midY} anchor="middle" size={12} fill="#333" rotate={-90}>DFS (%)</T>
      {/* curves */}
      {p.curves.map((c, i) => {
        const last = c.steps[c.steps.length - 1][1];
        const pts: Step[] = [...c.steps, [c.end, last]];
        return (
          <g key={"c" + i}>
            <path d={line(pts) || ""} fill="none" stroke={c.color} strokeWidth={1.8} />
            {c.cens.map((t, j) => (
              <line
                key={j}
                x1={x(t)}
                x2={x(t)}
                y1={y(survAt(c.steps, t)) - 3}
                y2={y(survAt(c.steps, t)) + 3}
                stroke={c.color}
                strokeWidth={1.3}
              />
            ))}
          </g>
        );
      })}
      {p.nLabels.map((l, i) => (
        <T key={"n" + i} x={x(l.t)} y={y(l.s)} size={8.5} fill="#333">{l.text}</T>
      ))}
      {/* legend */}
      {lg.ys.map((ly, i) => (
        <g key={"l" + i}>
          <line x1={lg.x1} x2={lg.x2} y1={ly} y2={ly} stroke={lg.colors[i]} strokeWidth={1.8} />
          <T x={lg.labelX} y={ly - 0.8} anchor={lg.anchor} size={lg.labelSize} fill="#333">{lg.labels[i]}</T>
        </g>
      ))}
      {lg.bracketX !== undefined &&
        lg.pTexts.map((pt, i) => {
          const y1 = lg.ys[i] - 1;
          const y2 = lg.ys[i + 1] - 1.5;
          const bx = lg.bracketX as number;
          return (
            <g key={"b" + i}>
              <path d={`M${bx - 3},${y1}H${bx}V${y2}H${bx - 3}`} fill="none" stroke="#444" strokeWidth={0.9} />
              <T x={lg.pX} y={(y1 + y2) / 2} size={lg.pSize} fill="#333">{pt}</T>
            </g>
          );
        })}
      {lg.bracketX === undefined &&
        lg.pTexts.map((pt, i) => (
          <T key={"p" + i} x={lg.pX} y={lg.pYs ? lg.pYs[i] : 0} size={lg.pSize} fill="#333">{pt}</T>
        ))}
      {/* risk table */}
      <T x={tb.naX} y={tb.naY} size={12} fill="#333">No. at risk</T>
      {tb.rows.map((row, ri) => (
        <g key={"r" + ri}>
          <T x={tb.labelX} y={tb.y0 + ri * tb.step} anchor={tb.anchor} size={11.5} fill="#222">{tb.labels[ri]}</T>
          {row.map((v, ci) => (
            <T key={ci} x={col(X_TICKS[ci])} y={tb.y0 + ri * tb.step} anchor="middle" size={11.5} fill="#555">{v}</T>
          ))}
        </g>
      ))}
    </g>
  );
}

export default function App() {
  return (
    <svg
      width={690}
      height={1346}
      viewBox="0 0 690 1346"
      style={{ position: "absolute", left: 0, top: 0, background: "#fff" }}
      fontFamily={FONT}
    >
      <rect x={0} y={0} width={690} height={1346} fill="#fff" />
      {panels.map((p) => (
        <Panel key={p.letter} p={p} />
      ))}
    </svg>
  );
}
